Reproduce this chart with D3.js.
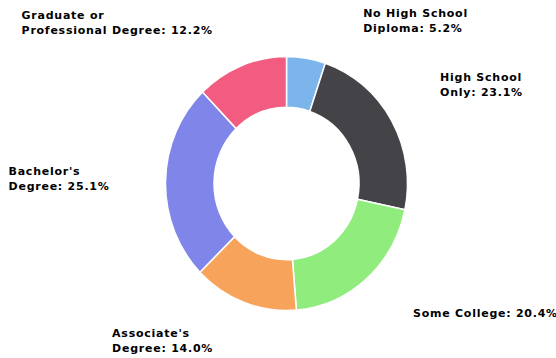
<!DOCTYPE html>
<html>
<head>
<meta charset="utf-8">
<script src="https://cdn.jsdelivr.net/npm/d3@7"></script>
<style>
  html, body { margin: 0; padding: 0; background: #ffffff; }
  svg { display: block; }
</style>
</head>
<body>
<svg id="chart" width="556" height="358"></svg>
<script>
// ---- data ----
const categories = [
  "No High School\nDiploma",
  "High School\nOnly",
  "Some College",
  "Associate's\nDegree",
  "Bachelor's\nDegree",
  "Graduate or\nProfessional Degree"
];
const values = [5.2, 23.1, 20.4, 14.0, 25.1, 12.2];
const colors = ["#7cb5ec", "#434348", "#90ed7d", "#f7a35c", "#8085e9", "#f15c80"];

// ---- layout (not data) ----
const W = 556, H = 358;
const cx = 286.5, cy = 183.5;
const outerR = 121, innerR = 72.5;
const yStretch = 1.05;
const labelRy = 168, labelR = 180;
const lineH = 15;
// small label nudges (label-collision adjustments), in px
const labelNudge = [[6.5, 3], [-6, -15.5], [-2, 3], [14, 0], [3, -2], [16.5, -5]];

const svg = d3.select("#chart");

const data = categories.map((c, i) => ({ name: c, value: values[i], color: colors[i] }));

const pie = d3.pie().sort(null).value(d => d.value);
const arcs = pie(data);
const arc = d3.arc().innerRadius(innerR).outerRadius(outerR);

const g = svg.append("g")
  .attr("transform", `translate(${cx},${cy}) scale(1,${yStretch})`);

g.selectAll("path")
  .data(arcs)
  .join("path")
  .attr("d", arc)
  .attr("fill", d => d.data.color)
  .attr("stroke", "#ffffff")
  .attr("stroke-width", 1.5)
  .attr("stroke-linejoin", "round");

// ---- labels ----
const labels = svg.append("g")
  .attr("font-family", "'DejaVu Sans', Verdana, sans-serif")
  .attr("font-weight", "bold")
  .attr("font-size", "11px")
  .attr("letter-spacing", "0.75px")
  .attr("fill", "#000000");

arcs.forEach((a, idx) => {
  const mid = (a.startAngle + a.endAngle) / 2;
  const dy = -labelRy * Math.cos(mid);
  const right = Math.sin(mid) >= 0;
  const dx = Math.sqrt(Math.max(0, labelR * labelR - dy * dy));
  const ax = cx + (right ? dx : -dx) + labelNudge[idx][0];
  const ay = cy + dy + labelNudge[idx][1];

  const lines = a.data.name.split("\n");
  lines[lines.length - 1] += ": " + d3.format(".1f")(a.data.value) + "%";

  const t = labels.append("text");
  const firstBaseline = ay - (lines.length - 1) * lineH / 2 + 4;
  lines.forEach((ln, i) => {
    t.append("tspan")
      .attr("x", 0)
      .attr("y", firstBaseline + i * lineH)
      .text(ln);
  });
  const bw = t.node().getBBox().width;
  const x0 = right ? ax : ax - bw;
  t.selectAll("tspan").attr("x", x0);
});
</script>
</body>
</html>
